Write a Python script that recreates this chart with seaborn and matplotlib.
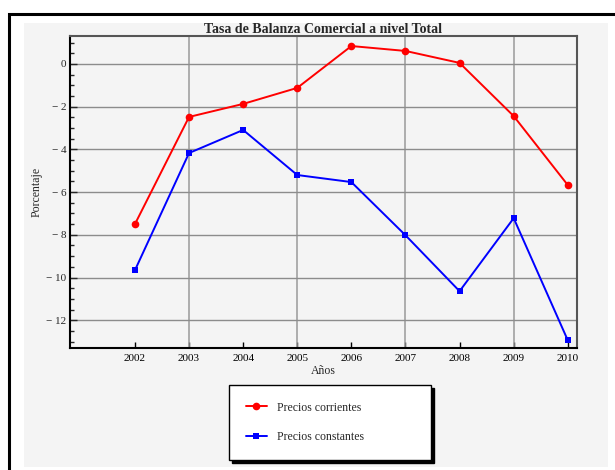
import matplotlib
matplotlib.use('Agg')
import matplotlib.pyplot as plt
from matplotlib.patches import Rectangle
from matplotlib.ticker import MultipleLocator, FuncFormatter, FixedLocator
import pandas as pd
import seaborn as sns

# data
years = [2002, 2003, 2004, 2005, 2006, 2007, 2008, 2009, 2010]
precios_corrientes = [-7.5, -2.48, -1.87, -1.12, 0.84, 0.61, 0.05, -2.44, -5.67]
precios_constantes = [-9.66, -4.17, -3.09, -5.2, -5.53, -8.02, -10.64, -7.22, -12.94]
series_names = ['Precios corrientes', 'Precios constantes']
grid_years = [2003, 2005, 2007, 2009]

df = pd.DataFrame({
    'year': years * 2,
    'value': precios_corrientes + precios_constantes,
    'serie': [series_names[0]] * len(years) + [series_names[1]] * len(years),
})

sns.set_style('white')
plt.rcParams['font.family'] = ['Liberation Serif', 'DejaVu Serif']
plt.rcParams['axes.unicode_minus'] = True

W, H = 615, 470
fig = plt.figure(figsize=(W / 100, H / 100), dpi=100)
fig.patch.set_facecolor('white')

# outer black frame (cut by the right and bottom edges) and gray panel
fig.patches.append(Rectangle((9 / W, -0.05), 1.2, (470 - 14) / H + 0.05, transform=fig.transFigure,
                             fill=False, edgecolor='black', linewidth=2.2, zorder=-2))
fig.patches.append(Rectangle((24 / W, 3 / H), 584 / W, 444 / H, transform=fig.transFigure,
                             facecolor='#f4f4f4', edgecolor='none', zorder=-1))

ax = fig.add_axes([70 / W, 1 - 348 / H, 507 / W, 312 / H])
ax.set_facecolor('#f4f4f4')

palette = {series_names[0]: 'red', series_names[1]: 'blue'}
markers = {series_names[0]: 'o', series_names[1]: 's'}
sns.lineplot(data=df, x='year', y='value', hue='serie', style='serie', palette=palette,
             markers=markers, dashes=False, linewidth=1.4, markersize=5.5,
             markeredgewidth=0, ax=ax, zorder=3)
for line in ax.lines:
    if line.get_marker() == 's':
        line.set_markersize(4.8)

ax.set_xlim(2000.8, 2010.17)
ax.set_ylim(-13.3, 1.31)

ax.xaxis.remove_overlapping_locs = False
ax.xaxis.set_major_locator(FixedLocator(years))
ax.xaxis.set_minor_locator(FixedLocator(grid_years))
ax.xaxis.set_major_formatter(FuncFormatter(lambda v, p: f'{int(round(v))}'))
ax.yaxis.set_major_locator(MultipleLocator(2))
ax.yaxis.set_minor_locator(MultipleLocator(0.5))
ax.yaxis.set_major_formatter(FuncFormatter(
    lambda v, p: f'\u2212 {abs(int(round(v)))}' if v < -0.01 else f'{int(round(v))}'))

ax.tick_params(axis='x', which='major', direction='in', length=4, width=1, labelsize=8,
               pad=4, colors='black', bottom=True)
ax.tick_params(axis='x', which='minor', length=0, bottom=True)
ax.tick_params(axis='y', which='major', direction='in', length=5, width=1, labelsize=8,
               pad=2.5, left=True)
ax.tick_params(axis='y', which='minor', direction='in', length=3, width=1, left=True)

ax.grid(False)
ax.xaxis.grid(True, which='minor', color='#999999', linewidth=1.1)
ax.yaxis.grid(True, which='major', color='#8c8c8c', linewidth=1.0)
ax.set_axisbelow(True)

for side in ['left', 'bottom']:
    ax.spines[side].set_color('black')
    ax.spines[side].set_linewidth(1.5)
for side in ['top', 'right']:
    ax.spines[side].set_color('#555555')
    ax.spines[side].set_linewidth(1.5)

ax.set_title('Tasa de Balanza Comercial a nivel Total', fontsize=10, fontweight='bold', pad=1)
ax.set_xlabel('Años', fontsize=8.5, labelpad=1.5)
ax.set_ylabel('Porcentaje', fontsize=8.5, labelpad=2.5)

handles, labels = ax.get_legend_handles_labels()
ax.legend_.remove()
leg = fig.legend(handles, labels, loc='upper left',
                 bbox_to_anchor=(229 / W, 1 - 457 / H, 202 / W, 72 / H), mode='expand',
                 fontsize=8.5, frameon=True, fancybox=False, framealpha=1,
                 edgecolor='black', facecolor='white', borderpad=1.4, labelspacing=1.5,
                 handlelength=1.8, handletextpad=0.9, borderaxespad=0,
                 shadow={'color': 'black', 'alpha': 1, 'ox': 3.5 / 1.39, 'oy': -3.5 / 1.39})
leg.get_frame().set_linewidth(1.0)

fig.savefig('out.png', dpi=100)
